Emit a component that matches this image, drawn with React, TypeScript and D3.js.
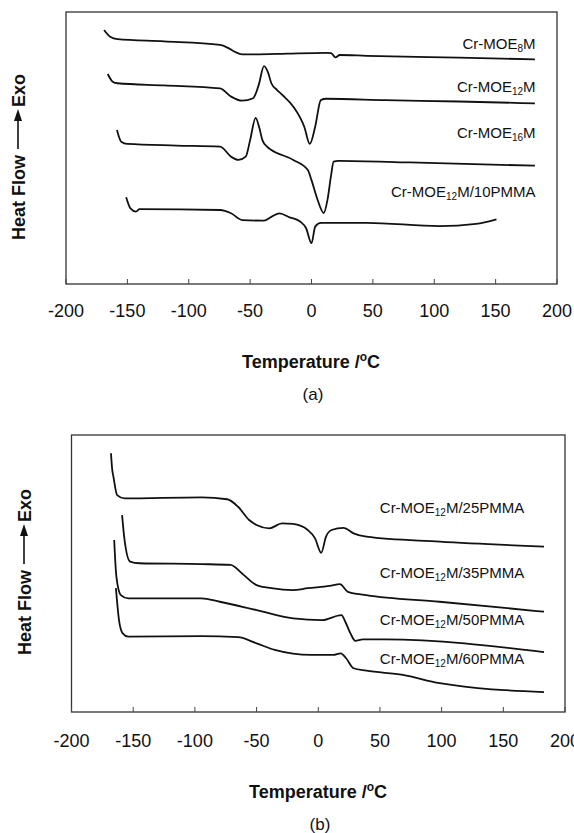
import React from "react";
import * as d3 from "d3";

// ---------- Data (temperature °C, heat flow arbitrary units) ----------
const TEMP_TICKS = [-200, -150, -100, -50, 0, 50, 100, 150, 200];

// Panel (a)
const A_8M: [number, number][] = [
  [-169, 93.4], [-164, 90.9], [-158, 90.0], [-120, 89.2], [-74.5, 87.9], [-68, 86.8],
  [-62.6, 85.4], [-56.5, 84.4], [-46, 84.4], [-20, 84.7], [12, 85.0], [16, 84.9],
  [19.5, 83.3], [23, 84.2], [45, 83.9], [120, 83.2], [182, 82.6],
];
const A_12M: [number, number][] = [
  [-166, 77.2], [-162, 74.4], [-158, 73.8], [-120, 73.0], [-74.5, 71.9], [-65.5, 68.9],
  [-56.5, 67.4], [-47.6, 68.3], [-43, 73.2], [-38.7, 80.1], [-35.5, 77.9], [-32.7, 73.8],
  [-28, 71.3], [-23.8, 69.5], [-14.8, 65.2], [-5.9, 57.8], [-1.4, 51.5], [3, 57.8],
  [7.6, 67.6], [12, 68.1], [60, 67.6], [120, 67.1], [182, 66.4],
];
const A_16M: [number, number][] = [
  [-158.5, 56.6], [-155, 52.3], [-150, 51.5], [-110, 50.9], [-74.5, 50.5], [-65.5, 46.8],
  [-59.5, 45.6], [-53.6, 46.8], [-50, 52.9], [-45.5, 61.1], [-42.5, 57.4], [-40, 52.9],
  [-36, 50.4], [-32.7, 49.3], [-14.8, 45.6], [-3, 41.9], [0, 38.2], [5, 30.9],
  [10, 26.1], [13, 30.9], [16, 40.1], [18, 45.0], [22, 45.3], [80, 44.7], [182, 43.5],
];
const A_10PMMA: [number, number][] = [
  [-151, 31.9], [-147.5, 27.8], [-143, 26.6], [-140, 27.5], [-74.5, 27.2], [-65.5, 26.0],
  [-56.5, 23.5], [-38.7, 23.3], [-32.7, 24.7], [-26, 26.0], [-17.8, 24.5], [-9, 22.9],
  [-4.4, 20.5], [0, 15.0], [3, 21.1], [7.6, 22.5], [45, 22.5], [104, 21.3],
  [134, 22.1], [150.7, 23.8],
];

// Panel (b)
const B_25PMMA: [number, number][] = [
  [-168, 93.4], [-167, 87.5], [-166, 84.9], [-163, 78.3], [-157, 77.1], [-94.7, 77.5],
  [-73.8, 76.8], [-65, 74.1], [-56, 69.3], [-50, 67.5], [-39.7, 66.3], [-29.4, 68.1],
  [-20.4, 67.9], [-8.5, 65.7], [-2.6, 62.7], [2.4, 57.5], [6.3, 63.3], [10.8, 65.7],
  [20.5, 66.5], [28.6, 64.5], [39, 63.3], [98.4, 61.5], [183, 59.7],
];
const B_35PMMA: [number, number][] = [
  [-159, 71.1], [-157, 62.1], [-152.5, 54.3], [-145, 53.7], [-94.7, 53.4], [-71, 53.1],
  [-62, 50.1], [-50, 45.8], [-38, 44.7], [-20.4, 44.0], [-8.5, 44.7], [9.3, 45.5],
  [17.6, 46.2], [24, 43.4], [39, 42.2], [98.4, 39.8], [183, 36.2],
];
const B_50PMMA: [number, number][] = [
  [-165.4, 62.1], [-163.6, 48.8], [-160, 42.2], [-154, 41.0], [-94.7, 41.0], [-79.8, 39.8],
  [-50, 36.8], [-20.4, 33.8], [3.3, 33.2], [18.8, 35.0], [22, 32.5], [26, 28.5],
  [30, 25.7], [36, 26.2], [54, 26.2], [183, 21.6],
];
const B_60PMMA: [number, number][] = [
  [-164, 44.7], [-161.5, 33.2], [-158.5, 28.4], [-154, 27.2], [-94.7, 27.4], [-65, 27.0],
  [-50, 24.8], [-35.3, 22.4], [-5.7, 20.6], [12.2, 20.6], [18.2, 21.2], [22.6, 19.4],
  [28.6, 15.8], [39, 14.9], [68.6, 13.4], [98.4, 10.4], [183, 7.2],
];

const A_SERIES = [A_8M, A_12M, A_16M, A_10PMMA];
const A_SUBS = ["8", "12", "16", "12"];
const A_SUFFIX = ["M", "M", "M", "M/10PMMA"];
const A_LABEL_POS: [number, number][] = [[182.5, 88.2], [182.5, 72.4], [182.5, 55.5], [182.5, 33.8]];

const B_SERIES = [B_25PMMA, B_35PMMA, B_50PMMA, B_60PMMA];
const B_SUBS = ["12", "12", "12", "12"];
const B_SUFFIX = ["M/25PMMA", "M/35PMMA", "M/50PMMA", "M/60PMMA"];
const B_LABEL_POS: [number, number][] = [[167, 73.6], [167, 50.2], [167, 33.2], [167, 19.1]];

const FONT = "'Liberation Sans', Arial, Helvetica, sans-serif";

type PanelProps = {
  box: { left: number; right: number; top: number; bottom: number };
  series: [number, number][][];
  subs: string[];
  suffix: string[];
  labelPos: [number, number][];
  tickLabelY: number;
  titleY: number;
  titleX: number;
  letter: string;
  letterY: number;
  yLabelX: number;
  yLabelY: number;
};

function Panel(p: PanelProps) {
  const x = d3.scaleLinear().domain([-200, 200]).range([p.box.left, p.box.right]);
  const y = d3.scaleLinear().domain([0, 100]).range([p.box.bottom, p.box.top]);
  const line = d3
    .line<[number, number]>()
    .x((d) => x(d[0]))
    .y((d) => y(d[1]))
    .curve(d3.curveMonotoneX);

  return (
    <g>
      {/* frame */}
      <rect
        x={p.box.left}
        y={p.box.top}
        width={p.box.right - p.box.left}
        height={p.box.bottom - p.box.top}
        fill="none"
        stroke="#333"
        strokeWidth={1.3}
      />
      {/* ticks */}
      {TEMP_TICKS.map((t) => (
        <line key={"t" + t} x1={x(t)} x2={x(t)} y1={p.box.bottom} y2={p.box.bottom - 5} stroke="#444" strokeWidth={1} />
      ))}
      {TEMP_TICKS.map((t) => (
        <text key={"l" + t} x={x(t)} y={p.tickLabelY} textAnchor="middle" fontSize={18} fontFamily={FONT} fill="#111">
          {t}
        </text>
      ))}
      {/* curves */}
      {p.series.map((s, i) => (
        <path key={"s" + i} d={line(s) || ""} fill="none" stroke="#111" strokeWidth={1.8} strokeLinejoin="round" />
      ))}
      {/* curve labels */}
      {p.labelPos.map((lp, i) => (
        <text
          key={"c" + i}
          x={x(lp[0])}
          y={y(lp[1]) + 5}
          textAnchor="end"
          fontSize={15}
          fontFamily={FONT}
          fill="#111"
        >
          Cr-MOE
          <tspan fontSize={10} dy={3}>
            {p.subs[i]}
          </tspan>
          <tspan dy={-3}>{p.suffix[i]}</tspan>
        </text>
      ))}
      {/* x title */}
      <text x={p.titleX} y={p.titleY} textAnchor="middle" fontSize={18} fontWeight="bold" fontFamily={FONT} fill="#111">
        Temperature /
        <tspan fontSize={12} dy={-7}>
          o
        </tspan>
        <tspan dy={7}>C</tspan>
      </text>
      <text x={p.titleX + 2} y={p.letterY} textAnchor="middle" fontSize={17} fontFamily={FONT} fill="#111">
        {p.letter}
      </text>
      {/* y title */}
      <g transform={`translate(${p.yLabelX},${p.yLabelY}) rotate(-90)`}>
        <text x={-83} y={6.5} fontSize={18} fontWeight="bold" fontFamily={FONT} fill="#111">
          Heat Flow
        </text>
        <line x1={8} x2={38} y1={0} y2={0} stroke="#111" strokeWidth={1.6} />
        <path d="M 48 0 L 36 -4 L 36 4 Z" fill="#111" />
        <text x={50} y={6.5} fontSize={18} fontWeight="bold" fontFamily={FONT} fill="#111">
          Exo
        </text>
      </g>
    </g>
  );
}

export default function App() {
  return (
    <svg
      width={574}
      height={833}
      viewBox="0 0 574 833"
      style={{ position: "absolute", left: 0, top: 0, background: "#fff" }}
    >
      <rect x={0} y={0} width={574} height={833} fill="#fff" />
      <Panel
        box={{ left: 66, right: 557, top: 12, bottom: 284 }}
        series={A_SERIES}
        subs={A_SUBS}
        suffix={A_SUFFIX}
        labelPos={A_LABEL_POS}
        tickLabelY={316.5}
        titleX={311}
        titleY={368}
        letter="(a)"
        letterY={400}
        yLabelX={18}
        yLabelY={157}
      />
      <Panel
        box={{ left: 71.5, right: 565, top: 435, bottom: 712 }}
        series={B_SERIES}
        subs={B_SUBS}
        suffix={B_SUFFIX}
        labelPos={B_LABEL_POS}
        tickLabelY={746.5}
        titleX={318}
        titleY={798}
        letter="(b)"
        letterY={830}
        yLabelX={24}
        yLabelY={572}
      />
    </svg>
  );
}
